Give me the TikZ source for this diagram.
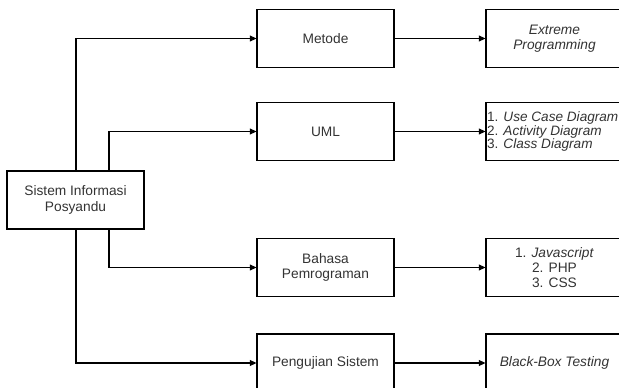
\documentclass[tikz,border=0pt]{standalone}
\usepackage{fontspec}
\setmainfont{Liberation Sans}
\usetikzlibrary{arrows.meta}
\definecolor{txt}{HTML}{333333}
\begin{document}
\begin{tikzpicture}[x=0.75pt,y=-0.75pt,
  box/.style={draw=black,line width=0.8pt,minimum width=102.75pt,minimum height=43.5pt,inner sep=0pt,text=txt,font=\fontsize{10.3}{11.5}\selectfont,align=center},
  conn/.style={draw=black,line width=0.8pt,-{Triangle[length=5pt,width=4.5pt]}},
  lst/.style={text=txt,font=\fontsize{10.2}{10.2}\selectfont,inner sep=0pt}]
\useasboundingbox (0,0) rectangle (619,388);
\clip (0,0) rectangle (619,388);
\node[box] (sis) at (75.5,200) {Sistem Informasi\\Posyandu};
\node[box] (met) at (325.5,38.5) {Metode};
\node[box] (uml) at (325.5,131.5) {UML};
\node[box] (bhs) at (325.5,267.5) {Bahasa\\Pemrograman};
\node[box] (uji) at (325.5,363) {Pengujian Sistem};
\node[box] (xp) at (554.5,38.5) {\itshape Extreme\\\itshape Programming};
\node[box] (ul) at (554.5,131.5) {};
\node[box] (bl) at (554.5,267.5) {1. \textit{Javascript}\\2. PHP\\3. CSS};
\node[box] (bb) at (554.5,363) {\itshape Black-Box Testing};
\node[lst,anchor=west,align=left] (ult) at ([xshift=1pt]ul.west) {1. \textit{Use Case Diagram}\\2. \textit{Activity Diagram}\\3. \textit{Class Diagram}};
\coordinate (a1) at (76,38.5);
\coordinate (a2) at (109,131.5);
\coordinate (a3) at (109,267.5);
\coordinate (a4) at (76,363);
\draw[conn] (sis.north -| a1) -- (a1) -- (met.west);
\draw[conn] (sis.north -| a2) -- (a2) -- (uml.west);
\draw[conn] (sis.south -| a3) -- (a3) -- (bhs.west);
\draw[conn] (sis.south -| a4) -- (a4) -- (uji.west);
\draw[conn] (met) -- (xp);
\draw[conn] (uml) -- (ul);
\draw[conn] (bhs) -- (bl);
\draw[conn] (uji) -- (bb);
\end{tikzpicture}
\end{document}
